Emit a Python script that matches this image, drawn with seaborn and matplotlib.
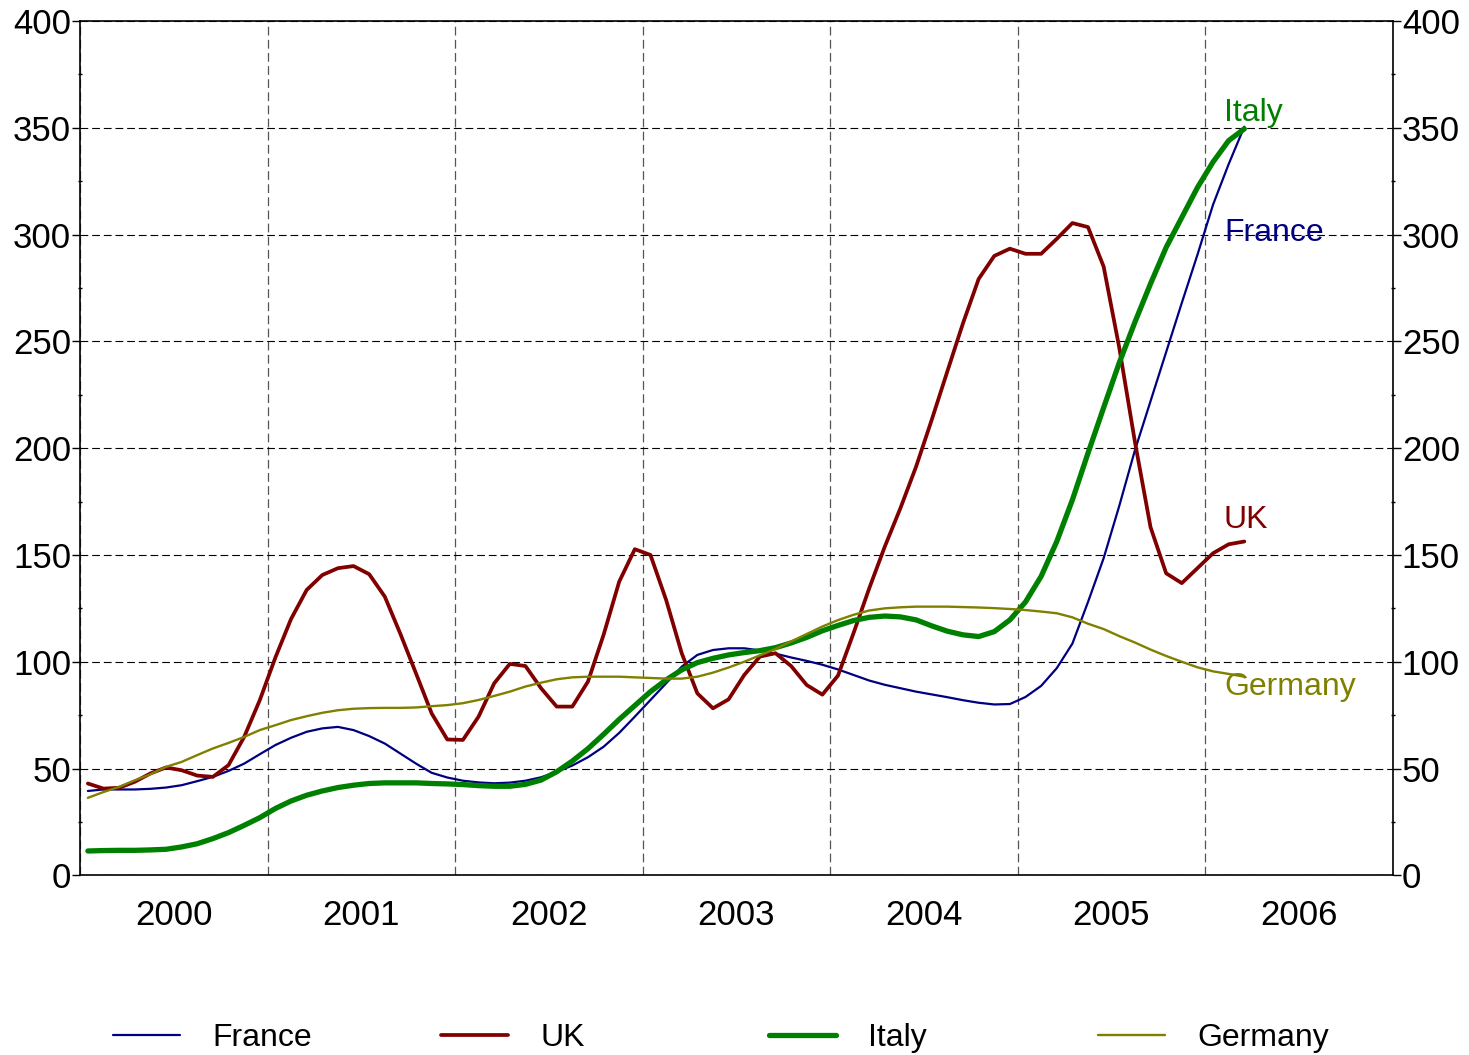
import numpy as np
import pandas as pd
import matplotlib
matplotlib.use("Agg")
import matplotlib.pyplot as plt
from matplotlib.ticker import MultipleLocator, FixedLocator, NullFormatter, FixedFormatter
import seaborn as sns

# monthly values, Jan 2000 .. Mar 2006
months = pd.period_range("2000-01", "2006-03", freq="M")

france = [39.5, 40.2, 40.2, 40.2, 40.5, 41.1, 42.2, 44.1, 46.1, 48.9, 52.3, 56.7,
          61.0, 64.4, 67.2, 68.8, 69.5, 68.0, 65.2, 61.7, 57.0, 52.3, 48.0, 45.8,
          44.3, 43.5, 43.1, 43.4, 44.3, 45.9, 48.5, 51.4, 55.3, 60.2, 66.7, 74.3,
          82.1, 89.9, 97.7, 103.2, 105.5, 106.3, 106.3, 105.3, 103.8, 102.0, 100.4, 98.6,
          96.4, 93.8, 91.2, 89.2, 87.6, 86.0, 84.7, 83.4, 82.0, 80.8, 80.0, 80.2,
          83.5, 88.7, 97.0, 108.5, 128.0, 148.5, 173.0, 199.0, 222.0, 245.0, 268.0, 290.5,
          314.0, 333.0, 350.5]
uk = [43.0, 40.6, 41.0, 43.8, 47.7, 50.5, 49.2, 46.7, 46.1, 51.6, 64.8, 82.0,
      102.0, 120.0, 133.6, 140.6, 143.8, 144.8, 141.0, 130.5, 113.0, 94.5, 75.8, 63.6,
      63.4, 74.3, 89.9, 99.0, 98.0, 87.6, 79.0, 79.0, 90.7, 112.6, 137.5, 152.7,
      150.0, 129.0, 104.0, 85.2, 78.2, 82.4, 93.8, 102.4, 104.0, 98.0, 89.1, 84.6,
      93.5, 113.5, 134.4, 154.0, 172.0, 191.4, 213.3, 236.0, 258.5, 279.2, 290.0, 293.4,
      291.0, 291.0, 298.0, 305.4, 303.5, 285.0, 247.0, 203.0, 163.0, 141.4, 136.8, 143.8,
      150.8, 155.0, 156.3]
italy = [11.4, 11.6, 11.7, 11.7, 11.9, 12.2, 13.3, 14.8, 17.2, 20.0, 23.4, 27.0,
         31.3, 34.8, 37.5, 39.5, 41.1, 42.2, 43.0, 43.3, 43.3, 43.3, 43.0, 42.8,
         42.5, 42.0, 41.7, 41.7, 42.6, 44.6, 48.5, 53.5, 59.3, 66.0, 73.0, 79.5,
         86.0, 91.5, 96.2, 99.6, 101.6, 103.2, 104.3, 105.2, 106.6, 108.8, 111.4, 114.5,
         117.0, 119.3, 120.8, 121.4, 121.0, 119.6, 116.8, 114.3, 112.6, 111.8, 114.1, 119.6,
         128.0, 140.0, 156.3, 175.8, 197.7, 219.0, 240.0, 259.0, 277.0, 294.0, 308.0, 322.0,
         334.0, 344.0, 349.5]
germany = [36.3, 39.0, 41.4, 44.5, 47.3, 50.8, 53.1, 56.3, 59.4, 62.0, 64.8, 68.0,
           70.3, 72.7, 74.5, 76.1, 77.3, 78.0, 78.3, 78.4, 78.4, 78.6, 79.2, 79.7,
           80.6, 82.1, 84.0, 86.0, 88.4, 90.2, 91.8, 92.7, 93.0, 93.0, 93.0, 92.7,
           92.4, 92.1, 92.1, 93.0, 94.9, 97.3, 100.0, 103.0, 106.0, 109.5, 113.0, 116.5,
           119.5, 122.0, 124.0, 125.0, 125.5, 125.8, 125.8, 125.8, 125.6, 125.4, 125.1, 124.7,
           124.2, 123.5, 122.7, 120.8, 117.8, 115.3, 112.0, 109.0, 105.7, 102.7, 100.0, 97.4,
           95.5, 94.3, 93.0]

names = ["France", "UK", "Italy", "Germany"]
colors = ["#000080", "#800000", "#008000", "#808000"]
widths = [1.6, 2.7, 3.8, 1.7]
# end labels: y of baseline
label_y = [297, 162.5, 353.4, 84.4]
years = [str(y) for y in range(2000, 2007)]

sns.set_style("white")
plt.rcParams["font.family"] = ["Liberation Sans", "DejaVu Sans"]
plt.rcParams["text.color"] = "black"

x = months.year + (months.month - 0.5) / 12.0
series = dict(zip(names, [france, uk, italy, germany]))

fig = plt.figure(figsize=(14.69, 10.55), dpi=100)
ax = fig.add_axes([0.0545, 0.1703, 0.9481 - 0.0545, 0.9801 - 0.1703])

for name, col, lw in zip(names, colors, widths):
    sns.lineplot(x=x, y=series[name], ax=ax, color=col, linewidth=lw, label=name)

ax.set_xlim(2000, 2007)
ax.set_ylim(0, 400)
ax.set_xlabel("")
ax.set_ylabel("")

ax.xaxis.set_major_locator(MultipleLocator(1))
ax.xaxis.set_major_formatter(NullFormatter())
ax.xaxis.set_minor_locator(FixedLocator([y + 0.5 for y in range(2000, 2007)]))
ax.xaxis.set_minor_formatter(FixedFormatter(years))
ax.tick_params(axis="x", which="major", direction="out", length=6, width=1, color="black")
ax.tick_params(axis="x", which="minor", length=0, pad=17, labelsize=25, labelcolor="black")

ax.yaxis.set_major_locator(MultipleLocator(50))
ax.yaxis.set_minor_locator(MultipleLocator(25))
ax.tick_params(axis="y", which="both", left=True, right=True, labelleft=True, labelright=True,
               color="black", labelcolor="black")
ax.tick_params(axis="y", which="major", direction="out", length=6, width=1, pad=0.5, labelsize=25)
ax.tick_params(axis="y", which="minor", direction="inout", length=3.5, width=1)

ax.grid(True, axis="y", which="major", color="black", linestyle=(0, (7, 3.5)), linewidth=0.8)
ax.grid(True, axis="x", which="major", color="#555555", linestyle=(0, (7, 3.5)), linewidth=0.9)
for s in ax.spines.values():
    s.set_visible(True)
    s.set_color("black")
    s.set_linewidth(1.2)

for name, col, ly in zip(names, colors, label_y):
    ax.text(2006.1, ly, name, color=col, fontsize=23, ha="left", va="baseline")

handles, labels = ax.get_legend_handles_labels()
ax.get_legend().remove()
legend_x = [0.0769, 0.3002, 0.5235, 0.7475]
for h, lab, lx in zip(handles, labels, legend_x):
    fig.legend(handles=[h], labels=[lab], loc="center left", bbox_to_anchor=(lx, 0.016),
               frameon=False, fontsize=23, handlelength=2.1, handletextpad=1.0,
               borderpad=0, borderaxespad=0, labelcolor="black")

fig.savefig("out.png", dpi=100)
